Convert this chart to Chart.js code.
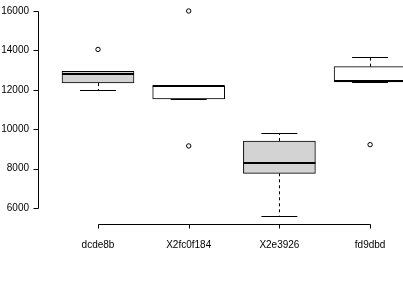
<!DOCTYPE html>
<html lang="en">

<head>
    <meta charset="UTF-8">
    <title>Boxplot</title>
    <script src="https://cdn.jsdelivr.net/npm/chart.js@4.4.0/dist/chart.umd.min.js"></script>
    <style>
        html, body {
            margin: 0;
            padding: 0;
            background-color: white;
        }
    </style>
</head>

<body>
    <canvas id="myChart" width="403" height="287"></canvas>
</body>

</html>
<script>
    // values
    let groups = ['dcde8b', 'X2fc0f184', 'X2e3926', 'fd9dbd'];
    let lowWhisker = [11990, 11535, 5610, 12400];
    let q1 = [12345, 11535, 7760, 12400];
    let median = [12800, 12180, 8270, 12440];
    let q3 = [12940, 12190, 9400, 13175];
    let highWhisker = [12950, 12190, 9790, 13680];
    let outliers = [[14050], [16000, 9150], [], [9215]];
    let boxFill = ['#d3d3d3', '#ffffff', '#d3d3d3', '#ffffff'];
    let yTicks = [6000, 8000, 10000, 12000, 14000, 16000];

    let boxData = groups.map((g, i) => ({ x: i + 1, y: [q1[i], q3[i]] }));
    let outlierData = [];
    outliers.forEach((arr, i) => arr.forEach(v => outlierData.push({ x: i + 1, y: v })));

    const FONT = '10px "Liberation Sans", Arial, sans-serif';

    // R style whiskers, medians and axes
    let boxExtras = {
        id: 'boxExtras',
        afterDatasetsDraw(chart) {
            let c = chart.ctx;
            let xs = chart.scales.x;
            let ys = chart.scales.y;
            let r = v => Math.round(v) + 0.5;
            c.save();
            c.strokeStyle = '#000';
            groups.forEach((g, i) => {
                let x = xs.getPixelForValue(i + 1);
                let half = 36;
                // dashed whiskers
                c.lineWidth = 1;
                c.setLineDash([3, 3]);
                c.beginPath();
                c.moveTo(r(x), ys.getPixelForValue(q3[i]));
                c.lineTo(r(x), ys.getPixelForValue(highWhisker[i]));
                c.moveTo(r(x), ys.getPixelForValue(q1[i]));
                c.lineTo(r(x), ys.getPixelForValue(lowWhisker[i]));
                c.stroke();
                c.setLineDash([]);
                // caps
                c.beginPath();
                c.moveTo(x - 18, r(ys.getPixelForValue(highWhisker[i])));
                c.lineTo(x + 18, r(ys.getPixelForValue(highWhisker[i])));
                c.moveTo(x - 18, r(ys.getPixelForValue(lowWhisker[i])));
                c.lineTo(x + 18, r(ys.getPixelForValue(lowWhisker[i])));
                c.stroke();
                // median
                c.lineWidth = 2;
                c.beginPath();
                c.moveTo(x - half, Math.round(ys.getPixelForValue(median[i])));
                c.lineTo(x + half, Math.round(ys.getPixelForValue(median[i])));
                c.stroke();
            });

            // axes
            c.lineWidth = 1;
            c.fillStyle = '#000';
            c.font = FONT;
            let ax = r(chart.chartArea.left);
            c.beginPath();
            c.moveTo(ax, r(ys.getPixelForValue(yTicks[0])));
            c.lineTo(ax, r(ys.getPixelForValue(yTicks[yTicks.length - 1])));
            yTicks.forEach(t => {
                let y = r(ys.getPixelForValue(t));
                c.moveTo(ax, y);
                c.lineTo(ax - 5, y);
            });
            let ay = r(chart.chartArea.bottom);
            c.moveTo(r(xs.getPixelForValue(1)), ay);
            c.lineTo(r(xs.getPixelForValue(groups.length)), ay);
            groups.forEach((g, i) => {
                let x = r(xs.getPixelForValue(i + 1));
                c.moveTo(x, ay);
                c.lineTo(x, ay + 4);
            });
            c.stroke();

            c.textAlign = 'right';
            c.textBaseline = 'middle';
            yTicks.forEach(t => c.fillText(String(t), 29, ys.getPixelForValue(t)));
            c.textAlign = 'center';
            groups.forEach((g, i) => c.fillText(g, xs.getPixelForValue(i + 1), 245));
            c.restore();
        }
    };

    let myChart = document.getElementById('myChart').getContext('2d');
    let boxChart = new Chart(myChart, {
        type: 'bar',
        data: {
            datasets: [{
                type: 'bar',
                data: boxData,
                backgroundColor: boxFill,
                borderColor: '#000000',
                borderWidth: 1,
                borderSkipped: false,
                barThickness: 72,
                clip: false,
                order: 2
            },
            {
                type: 'scatter',
                data: outlierData,
                pointStyle: 'circle',
                pointRadius: 2.2,
                pointBackgroundColor: 'rgba(0,0,0,0)',
                pointBorderColor: '#000000',
                pointBorderWidth: 1,
                clip: false,
                order: 1
            }]
        },
        options: {
            responsive: false,
            animation: false,
            devicePixelRatio: 1,
            layout: { padding: 0 },
            plugins: {
                legend: { display: false },
                tooltip: { enabled: false }
            },
            scales: {
                x: {
                    type: 'linear',
                    min: 0.34,
                    max: 4.364,
                    offset: false,
                    grid: { display: false },
                    border: { display: false },
                    ticks: { display: false },
                    afterFit: s => { s.height = 63; }
                },
                y: {
                    min: 5188,
                    max: 16558,
                    grid: { display: false },
                    border: { display: false },
                    ticks: { display: false },
                    afterFit: s => { s.width = 38; }
                }
            }
        },
        plugins: [boxExtras]
    });

    // fit the scale ranges to the R plot region (category 1 at x=98, 90.7 px per group;
    // 16000 at y=11 and 6000 at y=208)
    let area = boxChart.chartArea;
    let pxPerGroup = 90.7;
    let xMin = 1 - (98 - area.left) / pxPerGroup;
    boxChart.options.scales.x.min = xMin;
    boxChart.options.scales.x.max = xMin + (area.right - area.left) / pxPerGroup;
    let pxPerUnit = (208 - 11) / 10000;
    boxChart.options.scales.y.max = 16000 + (11 - area.top) / pxPerUnit;
    boxChart.options.scales.y.min = 6000 - (area.bottom - 208) / pxPerUnit;
    boxChart.update();
</script>
